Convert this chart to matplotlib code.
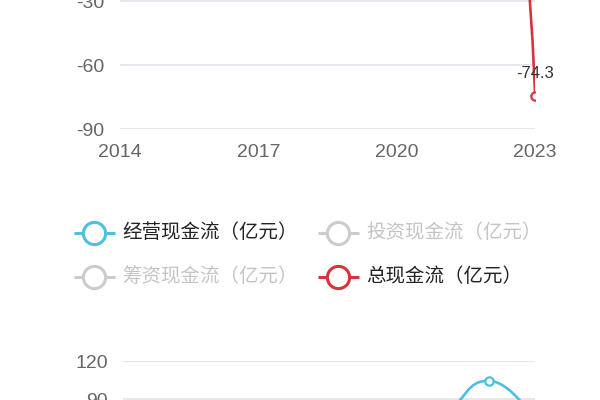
import numpy as np
import matplotlib.pyplot as plt
from matplotlib.path import Path
from matplotlib.patches import PathPatch

plt.rcParams['font.family'] = ['Liberation Sans', 'Noto Sans CJK SC', 'DejaVu Sans']
plt.rcParams['axes.unicode_minus'] = False

# ---- data (hidden parts are estimates) ----
years = [2014, 2015, 2016, 2017, 2018, 2019, 2020, 2021, 2022, 2023]
year_ticks = [2014, 2017, 2020, 2023]

operating = [12.4, 15.8, 18.2, 21.5, 26.0, 30.3, 38.7, 45.1, 104.3, 62.0]
investing = [-8.2, -10.5, -12.3, -15.0, -18.6, -20.1, -25.4, -30.2, -40.5, -95.0]
financing = [-2.1, 1.5, -3.2, 2.8, -4.0, 3.3, -5.1, 75.0, 36.2, -41.3]
total = [2.1, 6.8, 2.7, 9.3, 3.4, 13.5, 8.2, 89.9, 100.0, -74.3]

# lower chart (only its top edge is in view)
lower_operating = [15.2, 18.4, 22.0, 26.3, 30.5, 35.8, 44.2, 75.0, 104.3, 72.0]

legend_labels = ['经营现金流（亿元）', '投资现金流（亿元）',
                 '筹资现金流（亿元）', '总现金流（亿元）']
legend_on = [True, False, False, True]

BLUE = '#4dbfe0'
RED = '#d8333a'
OFF = '#cccccc'
GRID = '#e4e4ea'
TICK = '#666666'


def smooth_path(ax, xs, ys, smooth=0.5):
    """Bezier path through the points, echarts style smoothing."""
    pts = np.column_stack([xs, ys]).astype(float)
    disp = ax.transData.transform(pts)
    n = len(pts)
    c_in = [pts[i] for i in range(n)]
    c_out = [pts[i] for i in range(n)]
    for i in range(1, n - 1):
        v = pts[i + 1] - pts[i - 1]
        l0 = np.hypot(*(disp[i] - disp[i - 1]))
        l1 = np.hypot(*(disp[i + 1] - disp[i]))
        r = l1 / (l0 + l1)
        c_out[i] = pts[i] + v * smooth * r
        c_in[i] = pts[i] - v * smooth * (1 - r)
    verts = [pts[0]]
    codes = [Path.MOVETO]
    for i in range(1, n):
        verts += [c_out[i - 1], c_in[i], pts[i]]
        codes += [Path.CURVE4] * 3
    return Path(verts, codes)


def style_axes(ax, yticks, ylim, xlabels=True):
    ax.set_xlim(years[0], years[-1])
    ax.set_ylim(*ylim)
    ax.set_yticks(yticks)
    ax.set_xticks(year_ticks if xlabels else [])
    for s in ax.spines.values():
        s.set_visible(False)
    ax.grid(axis='y', color=GRID, lw=1.3)
    ax.set_axisbelow(True)
    ax.tick_params(axis='y', length=0, pad=11, labelsize=14, labelcolor=TICK)
    ax.tick_params(axis='x', length=0, pad=11, labelsize=14, labelcolor=TICK)
    ax.patch.set_alpha(0)


def draw_series(ax, ys, color, label_last=False):
    path = smooth_path(ax, years, ys)
    ax.add_patch(PathPatch(path, fill=False, edgecolor=color, lw=1.9,
                           capstyle='round', joinstyle='round', zorder=2))
    ax.plot(years, ys, 'o', ls='none', mfc='white', mec=color, ms=6,
            mew=1.6, zorder=3)
    if label_last:
        ax.annotate(f'{ys[-1]:.1f}', (years[-1], ys[-1]),
                    xytext=(0, 16), textcoords='offset points',
                    ha='center', va='center', fontsize=12, color='#333333')


fig = plt.figure(figsize=(6, 4), dpi=100)

# upper chart: its top runs past the picture edge
top = fig.add_axes([0.2, 1 - 129 / 400, 415 / 600, 448 / 400])
style_axes(top, list(range(-90, 121, 30)), (-90, 120))
draw_series(top, operating, BLUE)
draw_series(top, total, RED, label_last=True)

# lower chart: only the top strip is visible
low = fig.add_axes([123 / 600, 1 - 513 / 400, 412 / 600, 152 / 400])
style_axes(low, list(range(0, 121, 30)), (0, 120), xlabels=False)
draw_series(low, lower_operating, BLUE)

# legend, laid out in pixel coordinates
leg = fig.add_axes([0, 0, 1, 1])
leg.set_xlim(0, 600)
leg.set_ylim(400, 0)
leg.axis('off')
leg_colors = [BLUE, OFF, OFF, RED]
leg_pos = [(94, 233), (338, 233), (94, 277), (338, 277)]
for lab, on, col, (cx, cy) in zip(legend_labels, legend_on, leg_colors, leg_pos):
    c = col if on else OFF
    leg.plot([cx - 20, cx + 21], [cy, cy], color=c, lw=2.2,
             solid_capstyle='butt')
    leg.plot([cx], [cy], 'o', mfc='white', mec=c, ms=16, mew=2.2)
    leg.text(cx + 28, cy, lab, va='center', ha='left', fontsize=14,
             color='#222222' if on else '#c4c4c4',
             family=['Noto Sans CJK SC', 'DejaVu Sans'])

fig.savefig('out.png', dpi=100)
